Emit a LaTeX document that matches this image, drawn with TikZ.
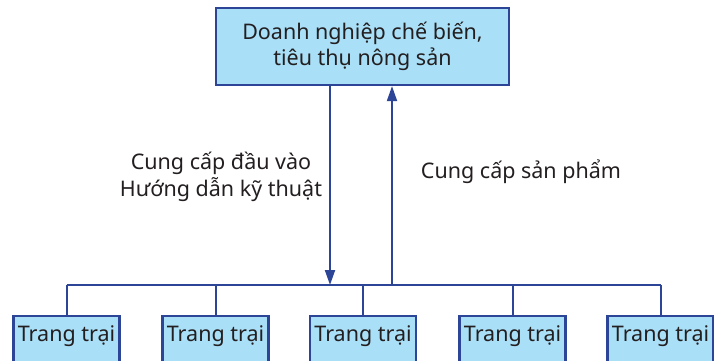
\documentclass[tikz,border=0pt]{standalone}
\usepackage{fontspec}
\setmainfont{Noto Sans}
\usetikzlibrary{arrows.meta}
\definecolor{boxfill}{HTML}{A9DFF7}
\definecolor{boxline}{HTML}{2C4597}
\definecolor{txt}{HTML}{231F20}
\begin{document}
\begin{tikzpicture}[x=1pt,y=-1pt,
  box/.style={draw=boxline,fill=boxfill,line width=2.2pt,inner sep=0pt,text=txt},
  farm/.style={box,minimum width=106pt,minimum height=48pt},
  conn/.style={draw=boxline,line width=2pt},
  arr/.style={conn,-{Triangle[width=10pt,length=15pt]}},
  lab/.style={text=txt,font=\fontsize{21.5}{27}\selectfont,align=center,inner sep=0pt}]
\useasboundingbox (0,0) rectangle (714,360);
\node[box,minimum width=293pt,minimum height=77pt,align=center,font=\fontsize{21.5}{26}\selectfont] (top) at (362.5,46.5) {Doanh nghiệp chế biến,\\tiêu thụ nông sản};
\node[farm] (f1) at (66.5,340) {};
\node[farm] (f2) at (215.5,340) {};
\node[farm] (f3) at (363,340) {};
\node[farm] (f4) at (512.5,340) {};
\node[farm] (f5) at (660.5,340) {};
\foreach \i in {1,...,5}{\node[text=txt,font=\fontsize{21.5}{24}\selectfont,inner sep=0pt] (t\i) at (f\i.center |- 0,336) {Trang trại};}
\coordinate (bus) at (0,285);
\coordinate (d) at (330,285);
\coordinate (u) at (392,285);
\draw[conn] (f1.north |- bus) -- (f5.north |- bus);
\foreach \i in {1,...,5}{\draw[conn] (f\i.north) -- (f\i.north |- bus);}
\draw[arr] (top.south -| d) -- (d);
\draw[arr] (u) -- (top.south -| u);
\node[lab] (l1) at (221,177) {Cung cấp đầu vào\\Hướng dẫn kỹ thuật};
\node[lab] (l2) at (521,172) {Cung cấp sản phẩm};
\end{tikzpicture}
\end{document}
